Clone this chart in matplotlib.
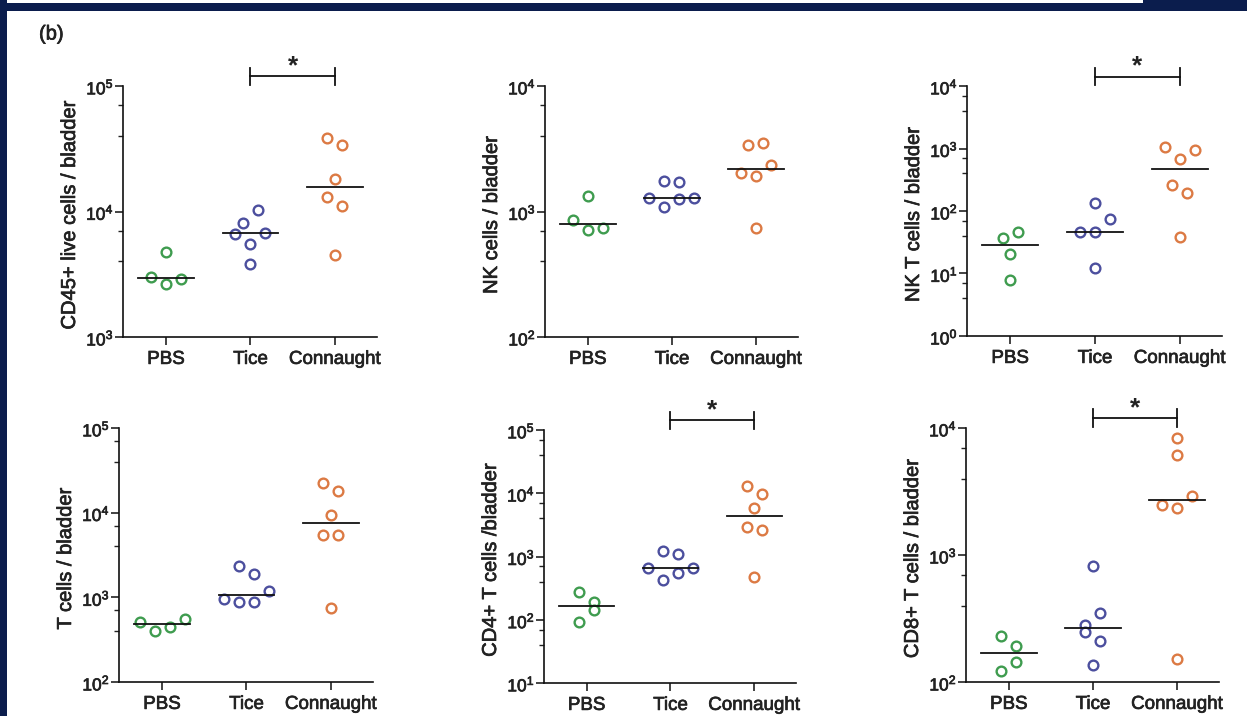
import numpy as np
import matplotlib
matplotlib.use("Agg")
import matplotlib.pyplot as plt
import matplotlib.transforms as mtransforms
import matplotlib.patheffects as pe
from matplotlib.patches import Rectangle
from matplotlib.ticker import LogLocator, NullFormatter

plt.rcParams['font.family'] = ['Liberation Sans', 'DejaVu Sans']
plt.rcParams['text.color'] = '#222222'
plt.rcParams['axes.labelcolor'] = '#222222'
plt.rcParams['xtick.color'] = '#222222'
plt.rcParams['ytick.color'] = '#222222'

groups = ["PBS", "Tice", "Connaught"]

# cells per bladder
cd45_pbs = [4730, 3020, 2880, 2640]
cd45_tice = [8150, 10280, 6620, 6780, 5500, 3790]
cd45_conn = [38300, 33900, 18200, 12970, 11070, 4500]

nk_pbs = [1334, 853, 745, 718]
nk_tice = [1746, 1725, 1270, 1285, 1089, 1254]
nk_conn = [3380, 3530, 2010, 2357, 1926, 745]

nkt_pbs = [36.6, 46.7, 20.3, 7.87]
nkt_tice = [136, 45.6, 74, 46, 12.1]
nkt_conn = [1050, 946, 680, 261, 192, 37.9]

t_pbs = [511, 555, 395, 446]
t_tice = [2366, 1870, 955, 1178, 873, 881]
t_conn = [22400, 17900, 9470, 5520, 5480, 748]

cd4_pbs = [276, 191, 92.4, 141]
cd4_tice = [1220, 1110, 670, 665, 430, 558]
cd4_conn = [13150, 9700, 5750, 2950, 2670, 476]

cd8_pbs = [229, 193, 121, 145]
cd8_tice = [815, 283, 350, 246, 209, 137]
cd8_conn = [8400, 6170, 2490, 2900, 2350, 152]

colors = ['#3f9c4f', '#4c4f9e', '#dc7a44']
navy = '#0b1d4d'
heavy = [pe.withStroke(linewidth=0.5, foreground='#222222')]

W, H = 1247, 716
fig = plt.figure(figsize=(W / 100, H / 100), dpi=100)

# frame of the slide
fig.add_artist(Rectangle((0, 0), 7 / W, 1, transform=fig.transFigure, color=navy, lw=0))
fig.add_artist(Rectangle((0, 1 - 11 / H), 1, 8 / H, transform=fig.transFigure, color=navy, lw=0))
fig.add_artist(Rectangle((1143 / W, 1 - 11 / H), 1 - 1143 / W, 11 / H,
                         transform=fig.transFigure, color=navy, lw=0))

fig.text(39 / W, 1 - 34 / H, "(b)", fontsize=14.5, va='center', ha='left', path_effects=heavy)


def swarm(ax, vals, center, step_px=15, row_px=14.5):
    # put close values side by side in rows, like a scatter dot plot
    ys = ax.transData.transform([(center, v) for v in vals])[:, 1]
    order = sorted(range(len(vals)), key=lambda i: -vals[i])
    rows = []
    for i in order:
        if rows and abs(ys[rows[-1][0]] - ys[i]) <= row_px:
            rows[-1].append(i)
        else:
            rows.append([i])
    ppu = ax.transData.transform((1, 1))[0] - ax.transData.transform((0, 1))[0]
    dx = [0.0] * len(vals)
    for row in rows:
        row = sorted(row)
        n = len(row)
        slots = [(k - (n - 1) / 2) * step_px for k in range(n)]
        slots = sorted(slots, key=lambda s: (-abs(s), s))
        for i, s in zip(row, slots):
            dx[i] = s / ppu
    return dx


def panel(rect, data, ylabel, ylim, sig):
    l, t, r, b = rect
    ax = fig.add_axes([l / W, 1 - b / H, (r - l) / W, (b - t) / H])
    ax.set_yscale('log')
    ax.set_ylim(*ylim)
    ax.set_xlim(-0.51, 2.5)

    for k, vals in enumerate(data):
        dx = swarm(ax, vals, k)
        ax.plot([k + d for d in dx], vals, 'o', ms=7, mfc='white', mec=colors[k],
                mew=1.7, zorder=3, clip_on=False)
        med = np.median(vals)
        ax.plot([k - 0.33, k + 0.33], [med, med], color='#111111', lw=1.3, zorder=4)

    ax.set_xticks(range(3))
    ax.set_xticklabels(groups)
    ax.yaxis.set_major_locator(LogLocator(base=10))
    ax.yaxis.set_minor_locator(LogLocator(base=10, subs=(4.0, 7.0)))
    ax.yaxis.set_minor_formatter(NullFormatter())

    for s in ['top', 'right']:
        ax.spines[s].set_visible(False)
    for s in ['left', 'bottom']:
        ax.spines[s].set_linewidth(1.2)
        ax.spines[s].set_color('#111111')

    ax.tick_params(axis='x', length=5.5, width=1.2, pad=4.5, labelsize=13.5)
    ax.tick_params(axis='y', which='major', length=5.5, width=1.2, pad=1, labelsize=12.5)
    ax.tick_params(axis='y', which='minor', length=3.5, width=1.0)
    for lab in ax.get_xticklabels() + ax.get_yticklabels():
        lab.set_path_effects(heavy)

    ax.set_ylabel(ylabel, fontsize=14.5, path_effects=heavy)
    ax.yaxis.set_label_coords(-44 / (r - l), 0.487)

    if sig:
        tr = mtransforms.blended_transform_factory(ax.transData, ax.transAxes)
        ax.plot([1, 2], [1.038, 1.038], color='#111111', lw=1.3, transform=tr, clip_on=False)
        for x in (1, 2):
            ax.plot([x, x], [1.003, 1.073], color='#111111', lw=1.3, transform=tr, clip_on=False)
        ax.text(1.5, 1.05, "*", fontsize=19, fontweight='bold', ha='center', va='baseline',
                transform=tr)
    return ax


panel((123, 86, 377, 337), [cd45_pbs, cd45_tice, cd45_conn],
      "CD45+ live cells / bladder", (1e3, 1e5), True)
panel((545, 86, 798, 337), [nk_pbs, nk_tice, nk_conn],
      "NK cells / bladder", (1e2, 1e4), False)
panel((967, 86, 1222, 336), [nkt_pbs, nkt_tice, nkt_conn],
      "NK T cells / bladder", (1e0, 1e4), True)
panel((119, 428, 373, 682), [t_pbs, t_tice, t_conn],
      "T cells / bladder", (1e2, 1e5), False)
panel((544, 430, 796, 683), [cd4_pbs, cd4_tice, cd4_conn],
      "CD4+ T cells /bladder", (1e1, 1e5), True)
panel((966, 428, 1219, 682), [cd8_pbs, cd8_tice, cd8_conn],
      "CD8+ T cells / bladder", (1e2, 1e4), True)

fig.savefig("out.png", dpi=100)
